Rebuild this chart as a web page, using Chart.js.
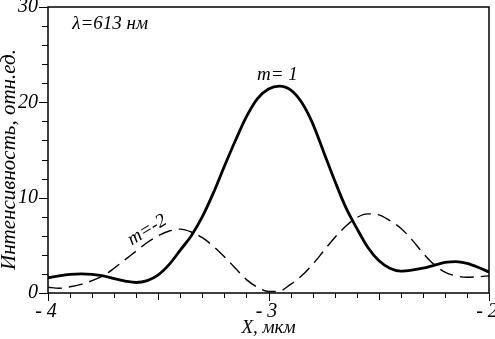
<!DOCTYPE html>
<html><head><meta charset="utf-8">
<script src="https://cdn.jsdelivr.net/npm/chart.js@4.4.1/dist/chart.umd.min.js"></script>
<style>html,body{margin:0;padding:0;background:#fff;}#wrap{width:495px;height:339px;}
.pre{font-family:'Liberation Serif';font-style:italic;position:absolute;left:-999px;top:0;}</style>
</head><body><span class="pre">Интенсивность 0123 λ=мкм</span><div id="wrap"><canvas id="c" width="495" height="339"></canvas></div>
<script>
const xValues = [-4.00,-3.95,-3.90,-3.85,-3.80,-3.75,-3.70,-3.65,-3.60,-3.55,-3.50,-3.45,-3.40,-3.35,-3.30,-3.25,-3.20,-3.15,-3.10,-3.05,-3.00,-2.95,-2.90,-2.85,-2.80,-2.75,-2.70,-2.65,-2.60,-2.55,-2.50,-2.45,-2.40,-2.35,-2.30,-2.25,-2.20,-2.15,-2.10,-2.05,-2.00];
const seriesM1 = [1.6,1.8,1.95,2.0,1.95,1.8,1.5,1.25,1.1,1.3,1.9,3.0,4.5,6.0,8.0,10.5,13.3,16.0,18.5,20.4,21.4,21.7,21.3,20.0,17.8,14.8,11.8,9.0,6.8,4.8,3.4,2.6,2.3,2.4,2.6,2.9,3.2,3.3,3.1,2.7,2.2];
const seriesM2 = [0.6,0.5,0.65,0.9,1.3,1.8,2.6,3.5,4.4,5.3,6.0,6.5,6.7,6.4,5.8,4.9,3.8,2.6,1.4,0.6,0.15,0.2,0.9,1.8,3.0,4.4,5.8,7.0,7.9,8.3,8.2,7.6,6.8,5.6,4.2,3.0,2.2,1.8,1.65,1.7,1.8];
const xTickLabels = ["-4","-3","-2"];
const yTickLabels = ["0","10","20","30"];
const seriesNames = ["m= 1","m=-2"];
const annotationText = "λ=613 нм";
const xTitle = "X, мкм";
const yTitle = "Интенсивность, отн.ед.";

const FONT = "'Liberation Serif', 'Times New Roman', Times, serif";

const ticksPlugin = {
  id: 'ticksPlugin',
  afterDraw(chart) {
    const ctx = chart.ctx, a = chart.chartArea;
    const xs = chart.scales.x, ys = chart.scales.y;
    ctx.save();
    ctx.strokeStyle = '#000';
    ctx.lineWidth = 1.5;
    ctx.strokeRect(a.left, a.top, a.right - a.left, a.bottom - a.top);
    ctx.lineWidth = 1;
    for (let i = 0; i <= 20; i++) {
      const v = -4 + i * 0.1;
      const px = Math.round(xs.getPixelForValue(v)) + 0.5;
      const len = (i % 10 === 0) ? 8 : (i % 5 === 0 ? 7 : 5);
      ctx.beginPath(); ctx.moveTo(px, a.bottom); ctx.lineTo(px, a.bottom + len); ctx.stroke();
    }
    for (let v = 0; v <= 30; v += 2) {
      const py = Math.round(ys.getPixelForValue(v)) + 0.5;
      const len = (v % 10 === 0) ? 9 : 6;
      ctx.beginPath(); ctx.moveTo(a.left, py); ctx.lineTo(a.left - len, py); ctx.stroke();
    }
    ctx.fillStyle = '#000';
    ctx.font = "italic 20px " + FONT;
    ctx.textAlign = 'right'; ctx.textBaseline = 'middle';
    yTickLabels.forEach(t => {
      ctx.fillText(t, a.left - 10, ys.getPixelForValue(Number(t)));
    });
    ctx.textAlign = 'center'; ctx.textBaseline = 'top';
    xTickLabels.forEach(t => {
      ctx.fillText(t.replace('-', '- '), xs.getPixelForValue(Number(t)) - 2, a.bottom + 9);
    });
    ctx.font = "italic 19px " + FONT;
    ctx.fillText(xTitle, xs.getPixelForValue(-3), a.bottom + 25);
    ctx.save();
    ctx.translate(9, ys.getPixelForValue(14.0));
    ctx.rotate(-Math.PI / 2);
    ctx.textBaseline = 'middle';
    ctx.font = "italic 21px " + FONT;
    ctx.fillText(yTitle, 0, 0);
    ctx.restore();
    ctx.textAlign = 'left'; ctx.textBaseline = 'middle';
    ctx.font = "italic 19px " + FONT;
    ctx.fillText(annotationText, xs.getPixelForValue(-3.89), ys.getPixelForValue(28.2));
    ctx.textAlign = 'center';
    ctx.fillText(seriesNames[0], xs.getPixelForValue(-2.96), ys.getPixelForValue(22.9));
    ctx.save();
    ctx.translate(xs.getPixelForValue(-3.55), ys.getPixelForValue(6.6));
    ctx.rotate(-0.55);
    ctx.fillText(seriesNames[1], 0, 0);
    ctx.restore();
    ctx.restore();
  }
};

function build() {
new Chart(document.getElementById('c'), {
  type: 'line',
  data: {
    datasets: [
      { label: seriesNames[0], data: xValues.map((x, i) => ({x, y: seriesM1[i]})), borderColor: '#000', borderWidth: 2.8, pointRadius: 0, tension: 0.4, cubicInterpolationMode: 'monotone', fill: false },
      { label: seriesNames[1], data: xValues.map((x, i) => ({x, y: seriesM2[i]})), borderColor: '#000', borderWidth: 1.4, borderDash: [14, 7], pointRadius: 0, tension: 0.4, cubicInterpolationMode: 'monotone', fill: false }
    ]
  },
  options: {
    responsive: false,
    animation: false,
    layout: { padding: { top: 7, right: 6, left: 0, bottom: 0 } },
    plugins: { legend: { display: false }, tooltip: { enabled: false } },
    scales: {
      x: { type: 'linear', min: -4, max: -2, grid: { display: false }, border: { display: false }, ticks: { display: false },
           afterFit: s => { s.height = 46; } },
      y: { type: 'linear', min: 0, max: 30, grid: { display: false }, border: { display: false }, ticks: { display: false },
           afterFit: s => { s.width = 48; } }
    }
  },
  plugins: [ticksPlugin]
});
}
if (document.fonts && document.fonts.load) {
  document.fonts.load("italic 20px 'Liberation Serif'").then(build, build);
} else build();
</script></body></html>
